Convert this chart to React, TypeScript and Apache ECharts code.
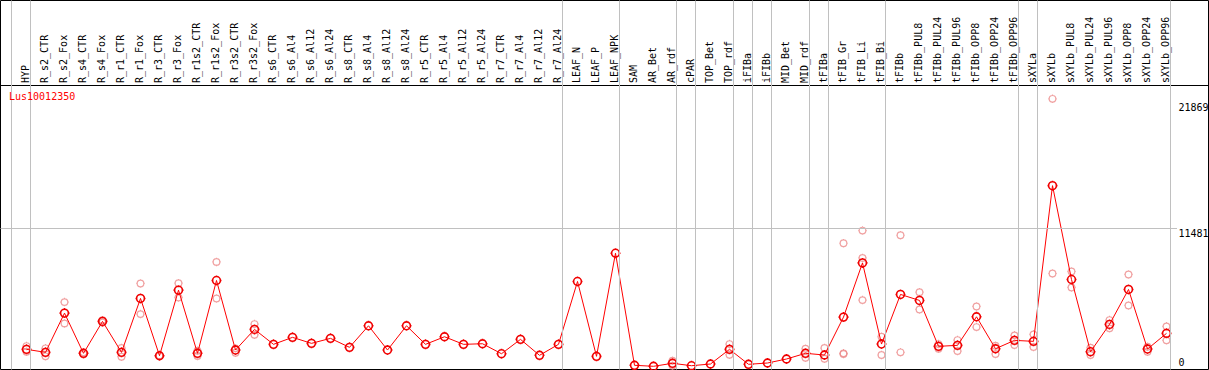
import React, { useEffect, useRef } from "react";
import * as echarts from "echarts";

const GENE = "Lus10012350";

const CATEGORIES = [
  "HYP",
  "R_s2_CTR", "R_s2_Fox", "R_s4_CTR", "R_s4_Fox", "R_r1_CTR", "R_r1_Fox", "R_r3_CTR", "R_r3_Fox",
  "R_r1s2_CTR", "R_r1s2_Fox", "R_r3s2_CTR", "R_r3s2_Fox",
  "R_s6_CTR", "R_s6_Al4", "R_s6_Al12", "R_s6_Al24",
  "R_s8_CTR", "R_s8_Al4", "R_s8_Al12", "R_s8_Al24",
  "R_r5_CTR", "R_r5_Al4", "R_r5_Al12", "R_r5_Al24",
  "R_r7_CTR", "R_r7_Al4", "R_r7_Al12", "R_r7_Al24",
  "LEAF_N", "LEAF_P", "LEAF_NPK",
  "SAM", "AR_Bet", "AR_rdf", "cPAR", "TOP_Bet", "TOP_rdf",
  "iFIBa", "iFIBb", "MID_Bet", "MID_rdf", "tFIBa",
  "tFIB_Gr", "tFIB_Li", "tFIB_Bi",
  "tFIBb", "tFIBb_PUL8", "tFIBb_PUL24", "tFIBb_PUL96", "tFIBb_OPP8", "tFIBb_OPP24", "tFIBb_OPP96",
  "sXYLa",
  "sXYLb", "sXYLb_PUL8", "sXYLb_PUL24", "sXYLb_PUL96", "sXYLb_OPP8", "sXYLb_OPP24", "sXYLb_OPP96",
];

const MEANS = [
  1500,
  1253, 4493, 1171, 3809, 1253, 5705, 973, 6389,
  1171, 7189, 1443, 3149,
  1913, 2490, 1995, 2407,
  1665, 3446, 1443, 3446,
  1913, 2539, 1913, 1962,
  1138, 2325, 1006, 1913,
  7106, 923, 9439,
  181, 99, 346, 148, 289, 1500,
  264, 371, 701, 1171, 1031,
  4163, 8640, 1937,
  6035, 5540, 1748, 1830, 4188, 1550, 2242,
  2160,
  15021, 7271, 1303, 3561, 6447, 1525, 2819,
];

const REPLICATES: number[][] = [
  [1772, 1303],
  [1583, 923], [5400, 3644], [1250, 1090], [3900, 3720], [1608, 890], [6941, 4411], [1000, 950], [6966, 5787],
  [1385, 948], [8722, 5705], [1583, 1220], [3586, 2704],
  [], [], [], [],
  [], [], [], [],
  [], [], [], [],
  [], [], [], [],
  [], [], [],
  [], [], [561, 148], [], [], [1937, 1055],
  [], [], [], [1550, 808], [1608, 725],
  [10264, 1171, 1113], [11311, 9052, 5565], [2539, 1031],
  [10924, 1253], [6224, 4798], [1937, 1550], [2267, 1360], [5045, 3339], [1797, 1113], [2655, 1855],
  [2737, 1700],
  [22193, 7766], [7931, 6612], [1632, 1031], [3916, 3232], [7684, 5128], [1715, 1303], [3397, 2242],
];

// separator lines drawn after these category indices
const SEPARATORS_AFTER = [-1, 0, 28, 31, 34, 35, 37, 38, 39, 41, 42, 45, 52, 53, 60];

const Y_LABELS_UPPER = [11481, 21869];
const Y_LABELS_LOWER = [0];
const GRID_VALUE = 11481;

// ---- layout (pixels) ----
const W = 1209;
const H = 370;
const FONT = "DejaVu Sans Mono";
const FIRST_POINT_PX = 26.5;
const STEP_PX = 19;
const ZERO_PX = 367.5;
const PX_PER_UNIT = 139 / 11481;
const GX0 = 0.5;
const GX1 = W - 0.5;
const GY0 = 0.5;
const GY1 = H - 0.5;
const HEADER_LINE_PX = 85.5;
const SEP_OFFSET = 4 / STEP_PX;
const LABEL_SHIFT = 1.5 / STEP_PX;
const GRIDLINE_END_PX = 1177;
const VALUE_LABEL_LEFT_PX = 1178.5;

const X_MIN = (GX0 - FIRST_POINT_PX) / STEP_PX;
const X_MAX = (GX1 - FIRST_POINT_PX) / STEP_PX;
const Y_MAX = (ZERO_PX - GY0) / PX_PER_UNIT;
const Y_MIN = (ZERO_PX - GY1) / PX_PER_UNIT;

// ring with four tiny ticks (circle drawn with cubic beziers), in a 10x10 box
const R = 3.9;
const C = 0.5523 * R;
const RING =
  "path://M5,0L5,0.7M5,9.3L5,10M0,5L0.7,5M9.3,5L10,5" +
  `M${5 + R},5C${5 + R},${5 + C},${5 + C},${5 + R},5,${5 + R}` +
  `C${5 - C},${5 + R},${5 - R},${5 + C},${5 - R},5` +
  `C${5 - R},${5 - C},${5 - C},${5 - R},5,${5 - R}` +
  `C${5 + C},${5 - R},${5 + R},${5 - C},${5 + R},5Z`;

export default function App() {
  const ref = useRef<HTMLDivElement>(null);

  useEffect(() => {
    document.body.style.margin = "0";
    if (!ref.current) return;
    const chart = echarts.init(ref.current, null, { renderer: "svg" });

    const repData: number[][] = [];
    REPLICATES.forEach((reps, i) => reps.forEach((v) => repData.push([i, v])));

    const yAxisBase = {
      type: "value",
      min: Y_MIN,
      max: Y_MAX,
      position: "right",
      axisLine: { show: false },
      axisTick: { show: false },
      splitLine: { show: false },
    };
    const yLabelBase = {
      inside: true,
      align: "left",
      lineHeight: 10,
      margin: GX1 - VALUE_LABEL_LEFT_PX,
      formatter: (v: number) => String(Math.round(v)),
      color: "#000000",
      fontFamily: FONT,
      fontSize: 10,
    };

    chart.setOption({
      animation: false,
      backgroundColor: "#ffffff",
      textStyle: { fontFamily: FONT, fontSize: 10 },
      title: {
        text: GENE,
        left: 9,
        top: 91,
        padding: 0,
        textStyle: { color: "#ff0000", fontFamily: FONT, fontSize: 10, fontWeight: "normal" },
      },
      grid: {
        left: GX0,
        top: GY0,
        right: W - GX1,
        bottom: H - GY1,
        show: true,
        borderColor: "#000000",
        borderWidth: 1,
        containLabel: false,
        outerBoundsMode: "none",
      },
      xAxis: [
        { type: "value", min: X_MIN, max: X_MAX, show: false },
        {
          type: "value",
          min: X_MIN,
          max: X_MAX,
          position: "bottom",
          offset: -(GY1 - HEADER_LINE_PX),
          axisLine: { show: true, onZero: false, lineStyle: { color: "#000000", width: 1 } },
          axisTick: { show: false },
          splitLine: { show: false },
          axisLabel: {
            inside: true,
            rotate: 90,
            margin: 2.5,
            customValues: CATEGORIES.map((_, i) => i - LABEL_SHIFT),
            formatter: (v: number) => CATEGORIES[Math.round(v)] ?? "",
            color: "#000000",
            fontFamily: FONT,
            fontSize: 10,
          },
        },
      ],
      yAxis: [
        {
          ...yAxisBase,
          axisLabel: { ...yLabelBase, verticalAlign: "top", customValues: Y_LABELS_UPPER },
        },
        {
          ...yAxisBase,
          axisLabel: { ...yLabelBase, verticalAlign: "bottom", customValues: Y_LABELS_LOWER },
        },
      ],
      series: [
        {
          name: "replicates",
          type: "scatter",
          xAxisIndex: 0,
          yAxisIndex: 0,
          data: repData,
          symbol: RING,
          symbolSize: 8.5,
          itemStyle: { color: "transparent", borderColor: "#ec8a8a", borderWidth: 1.2 },
          silent: true,
          z: 2,
          markLine: {
            silent: true,
            symbol: ["none", "none"],
            label: { show: false },
            lineStyle: { color: "#c0c0c0", width: 1, type: "solid" },
            emphasis: { disabled: true },
            data: [
              ...SEPARATORS_AFTER.map((k) => ({ xAxis: k + SEP_OFFSET })),
              [
                { coord: [X_MIN, GRID_VALUE] },
                { coord: [(GRIDLINE_END_PX - FIRST_POINT_PX) / STEP_PX, GRID_VALUE] },
              ],
            ],
          },
        },
        {
          name: "mean",
          type: "line",
          xAxisIndex: 0,
          yAxisIndex: 0,
          data: MEANS.map((v, i) => [i, v]),
          symbol: RING,
          symbolSize: 10,
          showAllSymbol: true,
          itemStyle: { color: "transparent", borderColor: "#f00000", borderWidth: 1.6 },
          lineStyle: { color: "#ff0000", width: 1 },
          silent: true,
          z: 3,
        },
      ],
    });

    return () => chart.dispose();
  }, []);

  return <div ref={ref} style={{ width: W, height: H }} />;
}
